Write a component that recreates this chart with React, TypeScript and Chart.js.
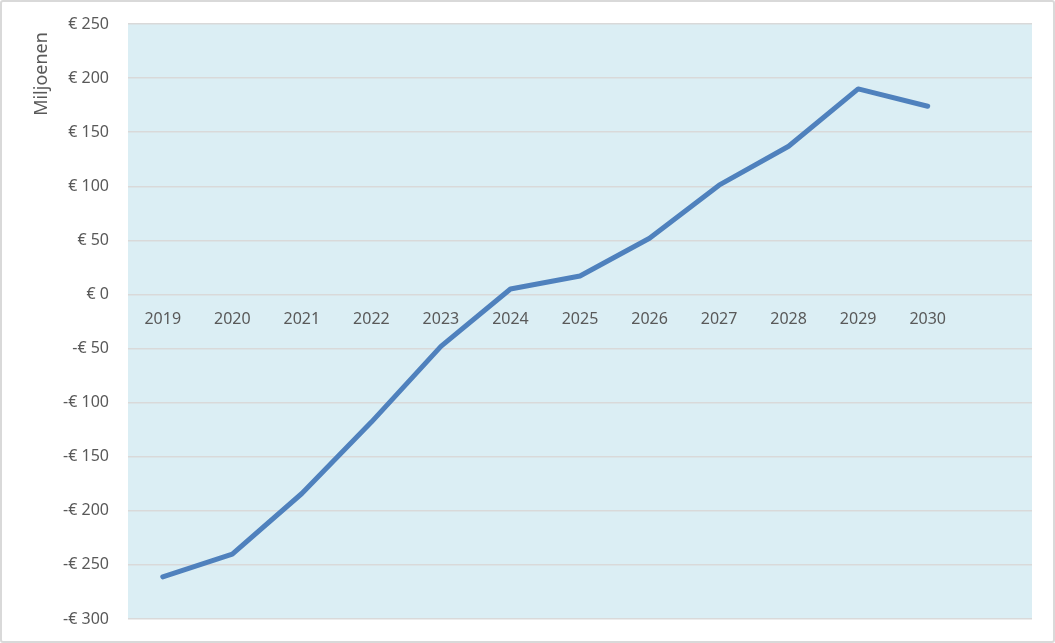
import React, { useEffect, useRef } from "react";
import { Chart, registerables } from "chart.js";

Chart.register(...registerables);

const years = ["2019", "2020", "2021", "2022", "2023", "2024", "2025", "2026", "2027", "2028", "2029", "2030", ""];
const values = [-261, -240, -184, -118, -48, 5, 17, 52, 101, 137, 190, 174, null];
const yMin = -300;
const yMax = 250;
const yStep = 50;
const axisTitle = "Miljoenen";

const FONT = "'Noto Sans', 'Open Sans', sans-serif";
const TEXT = "#595959";
const GRID = "#d9d9d9";

const bgPlugin = {
  id: "plotBg",
  beforeDraw(chart: any) {
    const { ctx, chartArea } = chart;
    ctx.save();
    ctx.fillStyle = "#dbeef4";
    ctx.fillRect(chartArea.left, chartArea.top, chartArea.right - chartArea.left, chartArea.bottom - chartArea.top);
    ctx.restore();
  },
  afterDraw(chart: any) {
    const { ctx } = chart;
    ctx.save();
    ctx.translate(42, 74);
    ctx.rotate(-Math.PI / 2);
    ctx.fillStyle = TEXT;
    ctx.font = `18px ${FONT}`;
    ctx.textAlign = "center";
    ctx.textBaseline = "middle";
    ctx.fillText(axisTitle, 0, 0);
    ctx.restore();
  },
};

export default function App() {
  const ref = useRef<HTMLCanvasElement>(null);
  useEffect(() => {
    if (!ref.current) return;
    const chart = new Chart(ref.current, {
      type: "line",
      data: {
        labels: years,
        datasets: [
          {
            data: values,
            borderColor: "#4f81bd",
            borderWidth: 5,
            borderCapStyle: "round",
            borderJoinStyle: "round",
            pointRadius: 0,
            fill: false,
            tension: 0,
          },
        ],
      },
      options: {
        animation: false,
        responsive: false,
        maintainAspectRatio: false,
        layout: { padding: { left: 0, top: 24, right: 23, bottom: 24 } },
        plugins: { legend: { display: false }, tooltip: { enabled: false } },
        scales: {
          x: {
            type: "category",
            offset: true,
            position: { y: 0 } as any,
            grid: { display: false, drawTicks: false, tickLength: 0 },
            border: { display: false },
            ticks: {
              color: TEXT,
              font: { family: FONT, size: 16 },
              padding: 15,
              maxRotation: 0,
              autoSkip: false,
            },
          },
          y: {
            min: yMin,
            max: yMax,
            grid: { color: GRID, lineWidth: 1.5, drawTicks: false, tickLength: 0 },
            border: { display: false },
            ticks: {
              stepSize: yStep,
              color: TEXT,
              font: { family: FONT, size: 16 },
              padding: 19,
              callback: (v: any) => (v < 0 ? `-€ ${Math.abs(v)}` : `€ ${v}`),
            },
            afterFit: (scale: any) => {
              scale.width = 128;
              scale.paddingTop = 0;
              scale.paddingBottom = 0;
            },
          },
        },
      },
      plugins: [bgPlugin],
    });
    return () => chart.destroy();
  }, []);

  return (
    <div style={{ position: "fixed", left: 0, top: 0, width: 1055, height: 643, background: "#fff" }}>
      <canvas ref={ref} width={1055} height={643} style={{ display: "block" }} />
      <div
        style={{
          position: "absolute",
          left: 0,
          top: 0,
          width: 1055,
          height: 643,
          boxSizing: "border-box",
          border: "2px solid #d9d9d9",
          borderRadius: 3,
          pointerEvents: "none",
        }}
      />
    </div>
  );
}
